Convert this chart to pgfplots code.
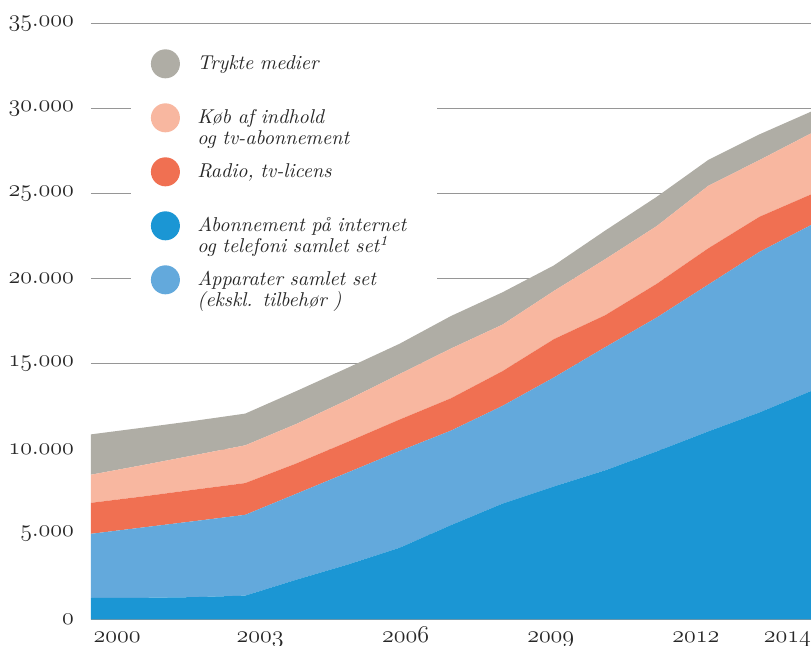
\documentclass[border=0pt]{standalone}
\usepackage{pgfplots}
\usepackage{pgfplotstable}
\pgfplotsset{compat=1.18}
\definecolor{cGrey}{RGB}{175,173,165}
\definecolor{cSalmon}{RGB}{248,183,160}
\definecolor{cRed}{RGB}{240,112,82}
\definecolor{cDark}{RGB}{27,150,212}
\definecolor{cLight}{RGB}{99,169,220}
\definecolor{cGrid}{RGB}{150,150,150}
\definecolor{cText}{RGB}{40,40,40}
\newcommand{\osn}[1]{$\mathnormal{#1}$}
\pgfplotstableread{
year abon app radio kob trykte
2000 1250 3770 1820 1650 2370
2001 1260 4130 1820 1840 2200
2002 1300 4460 1850 2020 2020
2003 1390 4745 1865 2215 1865
2004 2330 5050 1780 2320 1930
2005 3220 5410 1800 2470 1880
2006 4200 5680 1850 2670 1780
2007 5530 5550 1900 2920 1910
2008 6790 5740 2040 2730 1900
2009 7800 6400 2250 2830 1500
2010 8750 7230 1880 3290 1680
2011 9860 7860 1980 3390 1720
2012 11030 8620 2130 3670 1520
2013 12150 9430 2060 3330 1510
2014 13400 9750 1800 3585 1275
}\datatable
\begin{document}
\begin{tikzpicture}
\begin{axis}[
  name=ax,
  scale only axis,
  width=360pt, height=298pt,
  xmin=2000, xmax=2014, ymin=0, ymax=35000,
  stack plots=y,
  scaled y ticks=false, scaled x ticks=false,
  axis x line*=bottom, axis y line*=left,
  y axis line style={draw=none},
  x axis line style={draw=cGrid, line width=0.5pt},
  major tick length=0pt,
  ymajorgrids, grid style={draw=cGrid, line width=0.5pt},
  ytick={0,5000,10000,15000,20000,25000,30000,35000},
  yticklabels={\osn{0},\osn{5.000},\osn{10.000},\osn{15.000},\osn{20.000},\osn{25.000},\osn{30.000},\osn{35.000}},
  xtick={2000.51,2003.29,2006.12,2008.94,2011.76,2013.54},
  xticklabels={\osn{2000},\osn{2003},\osn{2006},\osn{2009},\osn{2012},\osn{2014}},
  tick label style={text=cText},
  yticklabel style={font=\fontsize{11.5}{13}\selectfont, xshift=-5pt},
  xticklabel style={font=\fontsize{12.5}{14}\selectfont, anchor=base, yshift=-11.7pt},
  legend image code/.code={\path (-10pt,-6pt); \fill[#1] (7.25pt,3pt) circle (7.25pt);},
  legend style={at={(rel axis cs:0.0549,0.957)}, anchor=north west, fill=white, draw=none,
    inner sep=0pt, font=\fontsize{10}{10.5}\selectfont\itshape, text=cText,
    cells={anchor=base west, align=left, text width=118pt},
    row sep=10.75pt,
    /tikz/every odd column/.append style={column sep=6.7pt}},
]
\addlegendimage{fill=cGrey, draw=none}
\addlegendentry{Trykte medier}
\addlegendimage{fill=cSalmon, draw=none}
\addlegendentry{Køb af indhold\\og tv-abonnement}
\addlegendimage{fill=cRed, draw=none}
\addlegendentry{Radio, tv-licens}
\addlegendimage{fill=cDark, draw=none}
\addlegendentry{Abonnement på internet\\og telefoni samlet set\textsuperscript{1}}
\addlegendimage{fill=cLight, draw=none}
\addlegendentry{Apparater samlet set\\(ekskl. tilbehør )}

\addplot[fill=cDark, draw=none] table[x=year, y=abon]{\datatable} \closedcycle;
\addplot[fill=cLight, draw=none] table[x=year, y=app]{\datatable} \closedcycle;
\addplot[fill=cRed, draw=none] table[x=year, y=radio]{\datatable} \closedcycle;
\addplot[fill=cSalmon, draw=none] table[x=year, y=kob]{\datatable} \closedcycle;
\addplot[fill=cGrey, draw=none] table[x=year, y=trykte]{\datatable} \closedcycle;
\end{axis}
\pgfresetboundingbox
\path[use as bounding box] ([shift={(-45.5pt,-13.35pt)}]ax.south west) rectangle ([shift={(0pt,11.65pt)}]ax.north east);
\end{tikzpicture}
\end{document}
